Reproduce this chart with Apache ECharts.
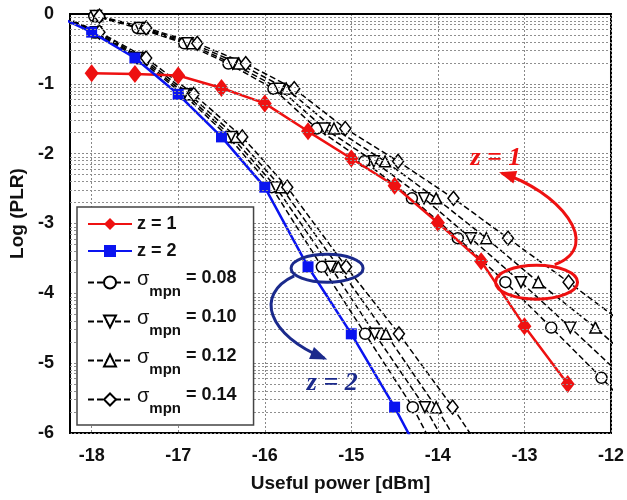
<!DOCTYPE html>
<html><head><meta charset="utf-8">
<script src="https://cdn.jsdelivr.net/npm/echarts@6/dist/echarts.min.js"></script>
<style>html,body{margin:0;padding:0;background:#fff}#c{width:627px;height:500px}</style>
</head><body><div id="c"></div>
<script>
// ---------------- data ----------------
const xTicks = [-18, -17, -16, -15, -14, -13, -12];
const yTicks = [0, -1, -2, -3, -4, -5, -6];

const redX = [-18, -17.5, -17, -16.5, -16, -15.5, -15, -14.5, -14, -13.5, -13, -12.5];
const redY = [-0.85, -0.86, -0.88, -1.06, -1.28, -1.68, -2.07, -2.46, -2.99, -3.54, -4.47, -5.3];

const blueX = [-18.5, -18, -17.5, -17, -16.5, -16, -15.5, -15, -14.5, -14];
const blueY = [0.03, -0.26, -0.63, -1.15, -1.76, -2.48, -3.62, -4.58, -5.63, -6.8];

const sigmaLabels = ['0.08', '0.10', '0.12', '0.14'];

// z = 1, sigma curves (rows share the same Log(PLR) values)
const z1RowY = [0.15, -0.03, -0.2, -0.42, -0.71, -1.07, -1.64, -2.11, -2.64, -3.21, -3.84, -4.49, -5.21, -5.95];
const z1X008 = [-18.5, -17.97, -17.47, -16.93, -16.42, -15.9, -15.4, -14.85, -14.3, -13.77, -13.22, -12.69, -12.11, -11.55];
const z1X010 = [-18.5, -17.95, -17.44, -16.89, -16.37, -15.83, -15.31, -14.74, -14.16, -13.62, -13.04, -12.47, -11.85, -11.25];
const z1X012 = [-18.5, -17.93, -17.41, -16.84, -16.3, -15.75, -15.2, -14.61, -14.02, -13.44, -12.84, -12.18, -11.53, -10.9];
const z1X014 = [-18.5, -17.91, -17.37, -16.78, -16.22, -15.66, -15.07, -14.46, -13.82, -13.19, -12.49, -11.79, -11.06, -10.3];

// z = 2, sigma curves
const z2RowY = [0.05, -0.26, -0.63, -1.15, -1.76, -2.48, -3.62, -4.58, -5.63, -6.8];
const z2X008 = [-18.5, -17.97, -17.47, -16.94, -16.42, -15.92, -15.34, -14.84, -14.29, -13.8];
const z2X010 = [-18.5, -17.95, -17.44, -16.91, -16.38, -15.87, -15.24, -14.73, -14.15, -13.62];
const z2X012 = [-18.5, -17.93, -17.41, -16.87, -16.33, -15.81, -15.15, -14.6, -14.02, -13.45];
const z2X014 = [-18.5, -17.91, -17.37, -16.82, -16.26, -15.74, -15.06, -14.45, -13.83, -13.2];

// annotation anchors (data coordinates)
const redEllipseC = [-12.86, -3.84];
const redArrow = [[-12.65, -3.59], [-12.06, -3.31], [-12.63, -2.52], [-13.26, -2.28]];
const redLabelPos = [-13.33, -2.07];
const blueEllipseC = [-15.28, -3.64];
const blueArrow = [[-15.66, -3.75], [-16.13, -4.02], [-15.96, -4.6], [-15.31, -4.93]];
const blueLabelPos = [-15.22, -5.29];

// ---------------- chart ----------------
const FONT = '"Liberation Sans", Arial, sans-serif';
const RED = '#ee1111', BLUE = '#0a14f0', NAVY = '#1b2a8c';
const zip = (xs, ys) => xs.map((x, i) => [x, ys[i]]);

const minorY = [];
for (let n = -6; n < 0; n++) for (let k = 2; k <= 9; k++) minorY.push(n + Math.log10(k));

const sigNames = sigmaLabels.map(s => 'σmpn = ' + s);
const sigSymbols = ['circle', 'triangle', 'triangle', 'diamond'];
const sigRot = [0, 180, 0, 0];
const sigSize = [11, 11, 11, [11, 14]];

function sigmaSeries(name, xs, ys, i) {
  return {
    type: 'line', name: name, data: zip(xs, ys), clip: true,
    symbol: sigSymbols[i], symbolRotate: sigRot[i], symbolSize: sigSize[i],
    itemStyle: { color: '#fff', borderColor: '#000', borderWidth: 1.5 },
    lineStyle: { color: '#000', width: 1.5, type: [6, 3] },
    z: 3
  };
}

const series = [
  { type: 'line', name: '_grid', data: [], silent: true,
    markLine: { silent: true, symbol: ['none', 'none'], label: { show: false },
      lineStyle: { color: '#8f8f8f', width: 1, type: [2, 2] },
      data: minorY.map(v => ({ yAxis: v })) } },
  { type: 'line', name: 'z = 1', data: zip(redX, redY), clip: true,
    symbol: 'diamond', symbolSize: [14, 18], itemStyle: { color: RED },
    lineStyle: { color: RED, width: 2.5 }, z: 4 },
  { type: 'line', name: 'z = 2', data: zip(blueX, blueY), clip: true,
    symbol: 'rect', symbolSize: 11, itemStyle: { color: BLUE },
    lineStyle: { color: BLUE, width: 2.5 }, z: 4 },
  sigmaSeries(sigNames[0], z1X008, z1RowY, 0),
  sigmaSeries(sigNames[1], z1X010, z1RowY, 1),
  sigmaSeries(sigNames[2], z1X012, z1RowY, 2),
  sigmaSeries(sigNames[3], z1X014, z1RowY, 3),
  sigmaSeries(sigNames[0], z2X008, z2RowY, 0),
  sigmaSeries(sigNames[1], z2X010, z2RowY, 1),
  sigmaSeries(sigNames[2], z2X012, z2RowY, 2),
  sigmaSeries(sigNames[3], z2X014, z2RowY, 3)
];

const chart = echarts.init(document.getElementById('c'), null, { renderer: 'canvas' });
chart.setOption({
  animation: false,
  backgroundColor: '#fff',
  grid: { left: 70, right: 12, top: 14, bottom: 67, show: true, borderColor: '#000', borderWidth: 2, backgroundColor: 'transparent' },
  xAxis: {
    type: 'value', min: -18.25, max: -12,
    name: 'Useful power [dBm]', nameLocation: 'middle', nameGap: 41,
    nameTextStyle: { fontFamily: FONT, fontWeight: 'bold', fontSize: 19, color: '#111' },
    axisLine: { lineStyle: { color: '#000', width: 2 } },
    axisTick: { show: false },
    axisLabel: { fontFamily: FONT, fontWeight: 'bold', fontSize: 18, color: '#111', margin: 14,
      formatter: v => (xTicks.indexOf(v) >= 0 ? String(v) : '') },
    splitLine: { show: true, lineStyle: { color: '#888', width: 1, type: [2, 2] } }
  },
  yAxis: {
    type: 'value', min: -6, max: 0, interval: 1,
    name: 'Log (PLR)', nameLocation: 'middle', nameGap: 27,
    nameTextStyle: { fontFamily: FONT, fontWeight: 'bold', fontSize: 19, color: '#111', padding: [0, 0, 0, 20] },
    axisLine: { lineStyle: { color: '#000', width: 2 } },
    axisTick: { show: false },
    axisLabel: { fontFamily: FONT, fontWeight: 'bold', fontSize: 18, color: '#111', margin: 16,
      formatter: v => (yTicks.indexOf(v) >= 0 ? String(v) : '') },
    splitLine: { show: true, lineStyle: { color: '#888', width: 1, type: [2, 2] } }
  },
  legend: {
    data: ['z = 1', 'z = 2'].concat(sigNames),
    orient: 'vertical', left: 77, top: 207,
    padding: [8, 17, 9, 10], itemGap: 9, itemWidth: 44, itemHeight: 15,
    backgroundColor: '#fff', borderColor: '#444', borderWidth: 1.5, borderRadius: 0,
    selectedMode: false,
    formatter: function (name) {
      if (name.charAt(0) === 'z') return '{z|' + name + '}';
      const s = name.split('= ')[1];
      return '{g|σ}{m|mpn}{v| = ' + s + '}';
    },
    textStyle: {
      fontFamily: FONT, color: '#111',
      rich: {
        z: { fontFamily: FONT, fontWeight: 'bold', fontSize: 18, color: '#111', padding: [2, 0, 2, 0] },
        g: { fontFamily: FONT, fontWeight: 'normal', fontSize: 20, color: '#111', verticalAlign: 'top', padding: [3, 0, 0, 0] },
        m: { fontFamily: FONT, fontWeight: 'bold', fontSize: 15, color: '#111', verticalAlign: 'bottom', lineHeight: 33 },
        v: { fontFamily: FONT, fontWeight: 'bold', fontSize: 18, color: '#111', verticalAlign: 'top', padding: [3, 0, 0, 0] }
      }
    },
    z: 10
  },
  series: series
});

// annotations placed through the grid's coordinate conversion
function px(p) { return chart.convertToPixel({ gridIndex: 0 }, p); }
function arrowHead(tip, from, len, wid) {
  const dx = tip[0] - from[0], dy = tip[1] - from[1];
  const L = Math.sqrt(dx * dx + dy * dy); const ux = dx / L, uy = dy / L;
  const bx = tip[0] - ux * len, by = tip[1] - uy * len;
  return [[tip[0] + ux * 3, tip[1] + uy * 3], [bx - uy * wid / 2, by + ux * wid / 2], [bx + uy * wid / 2, by - ux * wid / 2]];
}
const rc = px(redEllipseC), bc = px(blueEllipseC);
const ra = redArrow.map(px), ba = blueArrow.map(px);
const rl = px(redLabelPos), bl = px(blueLabelPos);
const SERIF = 'italic bold 26px "Liberation Serif", "Times New Roman", serif';
chart.setOption({
  graphic: [
    { type: 'ellipse', shape: { cx: rc[0], cy: rc[1], rx: 41, ry: 17 }, style: { fill: 'none', stroke: RED, lineWidth: 3 }, z: 20 },
    { type: 'bezierCurve', shape: { x1: ra[0][0], y1: ra[0][1], cpx1: ra[1][0], cpy1: ra[1][1], cpx2: ra[2][0], cpy2: ra[2][1], x2: ra[3][0], y2: ra[3][1] },
      style: { fill: 'none', stroke: RED, lineWidth: 3 }, z: 20 },
    { type: 'polygon', shape: { points: arrowHead(ra[3], ra[2], 14, 13) }, style: { fill: RED }, z: 20 },
    { type: 'text', x: rl[0], y: rl[1], style: { text: 'z = 1', fill: RED, font: SERIF, align: 'center', verticalAlign: 'middle' }, z: 20 },
    { type: 'ellipse', shape: { cx: bc[0], cy: bc[1], rx: 36, ry: 14 }, style: { fill: 'none', stroke: NAVY, lineWidth: 3 }, z: 20 },
    { type: 'bezierCurve', shape: { x1: ba[0][0], y1: ba[0][1], cpx1: ba[1][0], cpy1: ba[1][1], cpx2: ba[2][0], cpy2: ba[2][1], x2: ba[3][0], y2: ba[3][1] },
      style: { fill: 'none', stroke: NAVY, lineWidth: 3 }, z: 20 },
    { type: 'polygon', shape: { points: arrowHead(ba[3], ba[2], 14, 13) }, style: { fill: NAVY }, z: 20 },
    { type: 'text', x: bl[0], y: bl[1], style: { text: 'z = 2', fill: NAVY, font: SERIF, align: 'center', verticalAlign: 'middle' }, z: 20 }
  ]
});
</script>
</body></html>
